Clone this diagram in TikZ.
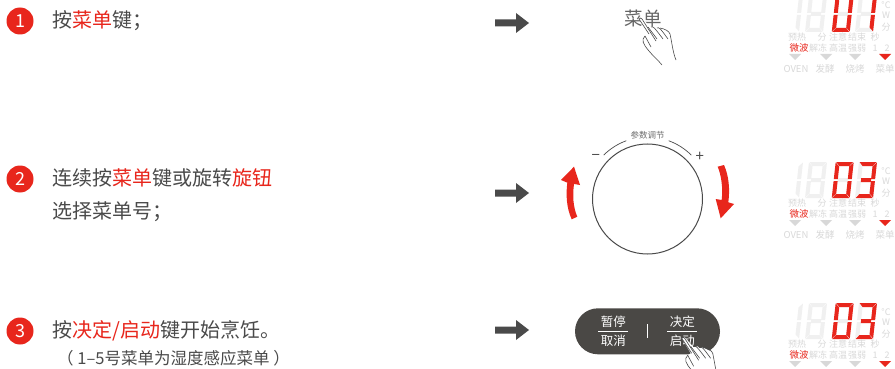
\documentclass[tikz,border=0pt]{standalone}
\usepackage{fontspec}
\setmainfont{Noto Sans CJK SC}
\definecolor{hotred}{HTML}{E8261C}
\definecolor{inkgray}{HTML}{4A4A4A}
\definecolor{pillgray}{HTML}{4A4845}
\definecolor{ghostseg}{HTML}{F0F0F0}
\definecolor{ghosttxt}{HTML}{D9D9D9}
\def\segA#1{\fill[#1] (0.5,0)--(17.5,0)--(14,4)--(4,4)--cycle;}
\def\segB#1{\fill[#1] (18,0.5)--(18,17)--(14,17)--(14,4.5)--cycle;}
\def\segC#1{\fill[#1] (18,19)--(18,35.5)--(14,31.5)--(14,19)--cycle;}
\def\segD#1{\fill[#1] (0.5,36)--(17.5,36)--(14,32)--(4,32)--cycle;}
\def\segE#1{\fill[#1] (0,19)--(0,35.5)--(4,31.5)--(4,19)--cycle;}
\def\segF#1{\fill[#1] (0,0.5)--(0,17)--(4,17)--(4,4.5)--cycle;}
\def\segG#1{\fill[#1] (4,16)--(14,16)--(14,20)--(4,20)--cycle;}
% one digit: x of top left corner, colour, segments
\newcommand\segDigit[3]{
	\begin{scope}[shift={(#1,0)},xslant=0.11]
		\foreach \s in {#3} {\csname seg\s\endcsname{#2}}
	\end{scope}
}
\newcommand\dispPanel[3]{
	\begin{scope}[shift={(0,#2)}]
		\segDigit{785}{ghostseg}{B,C}
		\segDigit{809}{ghostseg}{A,B,C,D,E,F,G}
		\segDigit{835.7}{ghostseg}{A,B,C,D,E,F,G}
		\segDigit{859}{ghostseg}{A,B,C,D,E,F,G}
		#3
		\foreach \x/\y/\t/\n in {886/9/°C/u,886/19/W/v,886/31/分/w,797/41/预热/a,822/41/分/b,838/41/注意/c,857/41/结束/d,875/41/秒/e,818/52/解冻/f,838/52/高温/g,857/52/强弱/h,875/52/1/i,887/52/2/j}
			\node[ghostlab] (#1\n) at (\x,\y) {\t};
		\node[redlab] (#1mw) at (799,52) {微波};
		\foreach \x in {795,826,855}
			\fill[ghostseg!90!black] (\x-6,58)--(\x+6,58)--(\x,64)--cycle;
		\fill[hotred] (879,58)--(891,58)--(885,64)--cycle;
	\end{scope}
}
\newcommand\dispModes[2]{
	\begin{scope}[shift={(0,#2)}]
		\foreach \x/\t/\n in {796/OVEN/k,825/发酵/l,855/烧烤/m,885/菜单/n}
			\node[ghostmode] (#1\n) at (\x,73) {\t};
	\end{scope}
}
\newcommand\handPic[1]{
	\begin{scope}[shift={(#1)}]
		\fill[white] (0,0)--(3,-1)--(12,9)--(16,8)--(18,10)--(21,9)--(31,14)--(37,41)--(23,46)--(10,32)--(4,22)--(6,17)--(9,15)--cycle;
		\draw[handline] (10,15)--(0,0) .. controls (1,-1.5) and (2.5,-1) .. (3,0)--(17,22);
		\draw[handline] (9,8)--(18,20);
		\draw[handline] (12,8) .. controls (14,7) and (15,8) .. (24,20);
		\draw[handline] (18,9) .. controls (20,8) and (21,9) .. (29,20);
		\draw[handline] (21,9) .. controls (26,10) and (30,12) .. (31,15) .. controls (33,24) and (34,34) .. (37,41);
		\draw[handline] (6,17) .. controls (2,21) and (4,25) .. (10,32) .. controls (14,37) and (19,41) .. (23,46);
		\draw[handline] (6,17)--(12,28);
	\end{scope}
}
\newcommand\blockArrow[2]{
	\fill[inkgray] (#1,#2-3.5)--(#1+21,#2-3.5)--(#1+21,#2-10)--(#1+34,#2)--(#1+21,#2+10)--(#1+21,#2+3.5)--(#1,#2+3.5)--cycle;
}
\tikzset{
	maintxt/.style={anchor=west,inner sep=0pt,text=inkgray,font=\fontsize{20}{24}\selectfont},
	subtxt/.style={anchor=west,inner sep=0pt,text=inkgray,font=\fontsize{16.5}{20}\selectfont},
	badge/.style={circle,fill=hotred,text=white,minimum size=27pt,inner sep=0pt,font=\fontsize{18}{20}\selectfont},
	ghostlab/.style={inner sep=0pt,text=ghosttxt,font=\fontsize{9}{10}\selectfont},
	redlab/.style={inner sep=0pt,text=hotred,font=\fontsize{9.5}{10}\selectfont},
	ghostmode/.style={inner sep=0pt,text=ghosttxt,font=\fontsize{9.5}{10}\selectfont},
	pilltxt/.style={inner sep=0pt,text=white,font=\fontsize{12.5}{14}\selectfont},
	handline/.style={draw=inkgray,line width=0.6pt},
}
\newcommand\hot[1]{{\color{hotred}#1}}
\begin{document}
\begin{tikzpicture}[x=1pt,y=-1pt]
	\clip (0,0) rectangle (895,369);
	\fill[white] (0,0) rectangle (895,369);
	% left column
	\node[badge] (stepA) at (20,21) {1};
	\node[badge] (stepB) at (20,179) {2};
	\node[badge] (stepC) at (20,331) {3};
	\node[maintxt] (txtA) at (52,21) {按\hot{菜单}键；};
	\node[maintxt] (txtB) at (52,178) {连续按\hot{菜单}键或旋转\hot{旋钮}};
	\node[maintxt] (txtBb) at (52,212) {选择菜单号；};
	\node[maintxt] (txtC) at (52,331) {按\hot{决定/启动}键开始烹饪。};
	\node[subtxt] (txtCb) at (57,358) {（ 1–5号菜单为湿度感应菜单 ）};
	% arrows
	\blockArrow{495}{23}
	\blockArrow{495}{193}
	\blockArrow{495}{330}
	% menu key
	\node[inner sep=0pt,text=inkgray!85,font=\fontsize{18.5}{18}\selectfont] (menuKey) at (643,18) {菜单};
	\handPic{639,19}
	% dial
	\coordinate (dialO) at (647.5,199);
	\draw[line width=1pt,draw=inkgray] (dialO) circle (55);
	\draw[line width=0.7pt,draw=inkgray] (dialO) ++(-110:62) arc [radius=62,start angle=-110,end angle=-135];
	\draw[line width=0.7pt,draw=inkgray] (dialO) ++(-70:62) arc [radius=62,start angle=-70,end angle=-45];
	\node[inner sep=0pt,text=inkgray!80,font=\fontsize{8.5}{10}\selectfont] (dialLab) at (647.5,135) {参数调节};
	\node[inner sep=0pt,text=inkgray,font=\fontsize{15}{15}\selectfont] (dialMinus) at (595.7,157.3) {−};
	\node[inner sep=0pt,text=inkgray,font=\fontsize{15}{15}\selectfont] (dialPlus) at (699.7,157.3) {+};
	\fill[hotred] (574,166.7)--(561,180)--(567.3,182.7) .. controls (565.8,195) and (566.5,208) .. (571.7,219.3)--(577.3,216.7) .. controls (573,207) and (572.5,195) .. (574,184)--(580,185)--cycle;
	\fill[hotred] (720.7,218.3)--(715.7,199)--(721.7,200) .. controls (723,188) and (721.5,176) .. (717.7,166.7)--(724,165) .. controls (729,176) and (730,190) .. (728.3,202.3)--(734,204)--cycle;
	% start key
	\fill[pillgray,rounded corners=23pt] (575,308.3) rectangle (720,354.3);
	\node[pilltxt] (pauseA) at (613.3,322) {暂停};
	\node[pilltxt] (pauseB) at (613.3,341) {取消};
	\node[pilltxt] (startA) at (682.3,322) {决定};
	\node[pilltxt] (startB) at (682.3,341) {启动};
	\draw[white,line width=0.7pt] (598.3,331)--(628.3,331);
	\draw[white,line width=0.7pt] (667.3,331)--(697.3,331);
	\draw[white,line width=0.8pt] (647.7,324)--(647.7,338);
	\handPic{681.7,338.3}
	% displays
	\dispPanel{pa}{-4}{\segDigit{835.7}{hotred}{A,B,C,D,E,F}\segDigit{859}{hotred}{B,C}}
	\dispModes{pa}{-4}
	\dispPanel{pb}{162}{\segDigit{835.7}{hotred}{A,B,C,D,E,F}\segDigit{859}{hotred}{A,B,C,D,G}}
	\dispModes{pb}{162}
	\dispPanel{pc}{303}{\segDigit{835.7}{hotred}{A,B,C,D,E,F}\segDigit{859}{hotred}{A,B,C,D,G}}
\end{tikzpicture}
\end{document}
